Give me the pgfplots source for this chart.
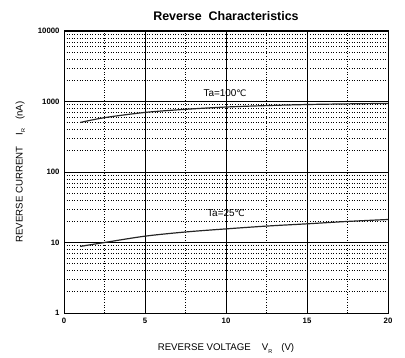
\documentclass[border=0pt]{standalone}
\usepackage{pgfplots}
\pgfplotsset{compat=1.18}
\usepackage{fontspec}
\setmainfont{Liberation Sans}
\newfontfamily\dejavu{DejaVu Sans}
\begin{document}
\begin{tikzpicture}
\useasboundingbox (0,0) rectangle (405bp,358bp);
\begin{axis}[
  at={(64bp,45bp)}, anchor=south west,
  scale only axis, width=324bp, height=282bp,
  xmin=0, xmax=20, ymin=1, ymax=10000,
  ymode=log,
  log basis y=10,
  xtick={0,5,10,15,20},
  minor x tick num=1,
  ytick={1,10,100,1000,10000},
  yticklabels={1,10,100,1000,10000},
  minor ytick={2,3,4,5,6,7,8,9,20,30,40,50,60,70,80,90,200,300,400,500,600,700,800,900,2000,3000,4000,5000,6000,7000,8000,9000},
  log ticks with fixed point,
  grid=both,
  major grid style={black, line width=0.9pt},
  minor grid style={black, line width=0.6pt, dotted},
  axis line style={black, line width=1pt},
  major tick length=0pt, minor tick length=0pt,
  tick label style={font=\bfseries\fontsize{7.8}{8}\selectfont},
  /pgf/number format/assume math mode=true,
  xticklabel style={yshift=-2bp},
  yticklabel style={xshift=-1bp},
  title={\bfseries\fontsize{12.5}{13}\selectfont Reverse\ \ Characteristics},
  title style={yshift=1bp},
  xlabel={REVERSE VOLTAGE\hspace{11bp}V\raisebox{-2.5bp}{\fontsize{5.5}{5.5}\selectfont R}\hspace{9bp}(V)},
  ylabel={REVERSE CURRENT\hspace{11bp}I\raisebox{-2.5bp}{\fontsize{5.5}{5.5}\selectfont R}\hspace{9bp}(nA)},
  label style={font=\fontsize{9.7}{10}\selectfont},
  xlabel style={yshift=-13bp},
  ylabel style={yshift=6bp},
]
\addplot[black!85, line width=1.2pt, smooth] coordinates {
(1,504) (2.5,590) (5,700) (7.5,775) (10,835) (12.5,875) (15,906) (17.5,925) (20,940)};
\addplot[black!85, line width=1.2pt, smooth] coordinates {
(1,8.8) (2.5,10.0) (5,12.3) (7.5,14.1) (10,15.6) (12.5,17.1) (15,18.4) (17.5,19.9) (20,21.2)};
\node[font=\fontsize{10}{11}\selectfont, inner sep=1pt] at (axis cs:9.94,1311) {Ta=100{\dejavu\fontsize{9}{10}\selectfont ℃}};
\node[font=\fontsize{10}{11}\selectfont, inner sep=1pt] at (axis cs:10.0,25.8) {Ta=25{\dejavu\fontsize{9}{10}\selectfont ℃}};
\end{axis}
\end{tikzpicture}
\end{document}
